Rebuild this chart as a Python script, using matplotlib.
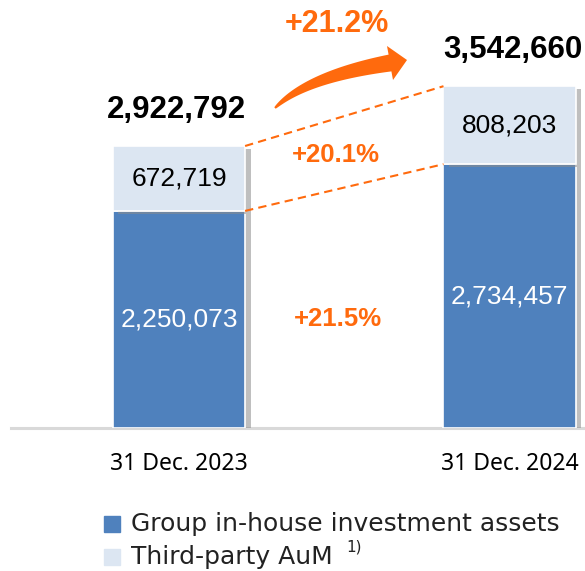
import numpy as np
import matplotlib.pyplot as plt
import matplotlib.patheffects as pe
from matplotlib.patches import Polygon, Rectangle

# values
periods = ["31 Dec. 2023", "31 Dec. 2024"]
in_house = [2250073, 2734457]
third_party = [672719, 808203]
totals = [2922792, 3542660]
growth_total = "+21.2%"
growth_third = "+20.1%"
growth_in_house = "+21.5%"

BLUE = "#4F81BD"
LIGHT = "#DCE6F2"
ORANGE = "#FF6A0D"

W, H = 585, 571
fig = plt.figure(figsize=(W / 100, H / 100), dpi=100)


def px(x, y):
    # pixel position (from top-left) -> figure fraction
    return x / W, 1 - y / H


# axes: baseline at y=428 px, spans x 11..585
ax_bottom = 1 - 428 / H
ax = fig.add_axes([11 / W, ax_bottom, 1 - 11 / W, 1 - ax_bottom])
ymax = 2922792 * 428 / 282
ax.set_ylim(0, ymax)
ax.set_xlim(-0.508, 1.228)
ax.axis("off")

x = [0, 1]
width = 0.40
shadow = [pe.SimplePatchShadow(offset=(4, -2), shadow_rgbFace="#8c8c8c", alpha=0.55), pe.Normal()]

b1 = ax.bar(x, in_house, width=width, color=BLUE, edgecolor="white", linewidth=1.2, zorder=3)
b2 = ax.bar(x, third_party, width=width, bottom=in_house, color=LIGHT, edgecolor="white",
            linewidth=1.2, zorder=3)
for p in list(b1) + list(b2):
    p.set_path_effects(shadow)

# baseline
ax.plot([-0.508, 1.228], [0, 0], color="#D9D9D9", lw=2.2, zorder=2, clip_on=False)

num_font = "Liberation Sans"
for i in x:
    ax.text(i, in_house[i] / 2, f"{in_house[i]:,}", ha="center", va="center",
            color="white", fontsize=19, family=num_font, zorder=5)
    ax.text(i, in_house[i] + third_party[i] / 2, f"{third_party[i]:,}", ha="center",
            va="center", color="black", fontsize=19, family=num_font, zorder=5)
    ax.annotate(f"{totals[i]:,}", (i, totals[i]), xytext=(-2 if i == 0 else 2, 26),
                textcoords="offset points", ha="center", va="center", fontsize=22.5,
                fontweight="bold", family=num_font, clip_on=False, annotation_clip=False)
    ax.text(i, -ymax * 0.083, periods[i], ha="center", va="center", fontsize=16.5,
            family="Noto Sans", clip_on=False)

# dashed connectors
for y0, y1 in [(totals[0], totals[1]), (in_house[0], in_house[1])]:
    ax.plot([width / 2, 1 - width / 2], [y0, y1], color=ORANGE, lw=1.5,
            ls=(0, (4, 2.5)), zorder=4, clip_on=False)

# growth labels
ax.text(0.48, in_house[0] / 2, growth_in_house, ha="center", va="center", color=ORANGE,
        fontsize=18.5, fontweight="bold", family=num_font)
fig.text(*px(336, 155), growth_third, ha="center", va="center",
         color=ORANGE, fontsize=18.5, fontweight="bold", family=num_font)
fig.text(*px(337, 24), growth_total, ha="center", va="center", color=ORANGE,
         fontsize=22, fontweight="bold", family=num_font)

# tapered curved arrow (pixel coords)
p0, p1, p2 = np.array([275, 108]), np.array([306, 77]), np.array([390, 63])
t = np.linspace(0, 1, 40)[:, None]
centre = (1 - t) ** 2 * p0 + 2 * (1 - t) * t * p1 + t ** 2 * p2
deriv = 2 * (1 - t) * (p1 - p0) + 2 * t * (p2 - p1)
normal = np.column_stack([-deriv[:, 1], deriv[:, 0]])
normal /= np.linalg.norm(normal, axis=1)[:, None]
half = (1.0 + 7.5 * t[:, 0] ** 0.8)[:, None]
upper = centre - normal * half
lower = centre + normal * half
head = np.array([[387, 46], [407, 60], [393, 80]])
outline = np.vstack([upper, head if upper[-1, 1] < lower[-1, 1] else head[::-1], lower[::-1]])
outline_fig = np.array([px(a, b) for a, b in outline])
fig.patches.append(Polygon(outline_fig, closed=True, transform=fig.transFigure,
                           color=ORANGE, lw=0))

# legend
leg_font = "DejaVu Sans"
for (ly, col, label) in [(524, BLUE, "Group in-house investment assets"),
                         (557, LIGHT, "Third-party AuM")]:
    sx, sy = px(104, ly + 8)
    fig.patches.append(Rectangle((sx, sy), 16 / W, 16 / H, transform=fig.transFigure,
                                 color=col))
    fig.text(*px(131, ly), label, ha="left", va="center", fontsize=18,
             family=leg_font, color="#222222")
fig.text(*px(346, 547), "1)", ha="left", va="center", fontsize=11, family=leg_font,
         color="#222222")

fig.savefig("out.png", dpi=100)
